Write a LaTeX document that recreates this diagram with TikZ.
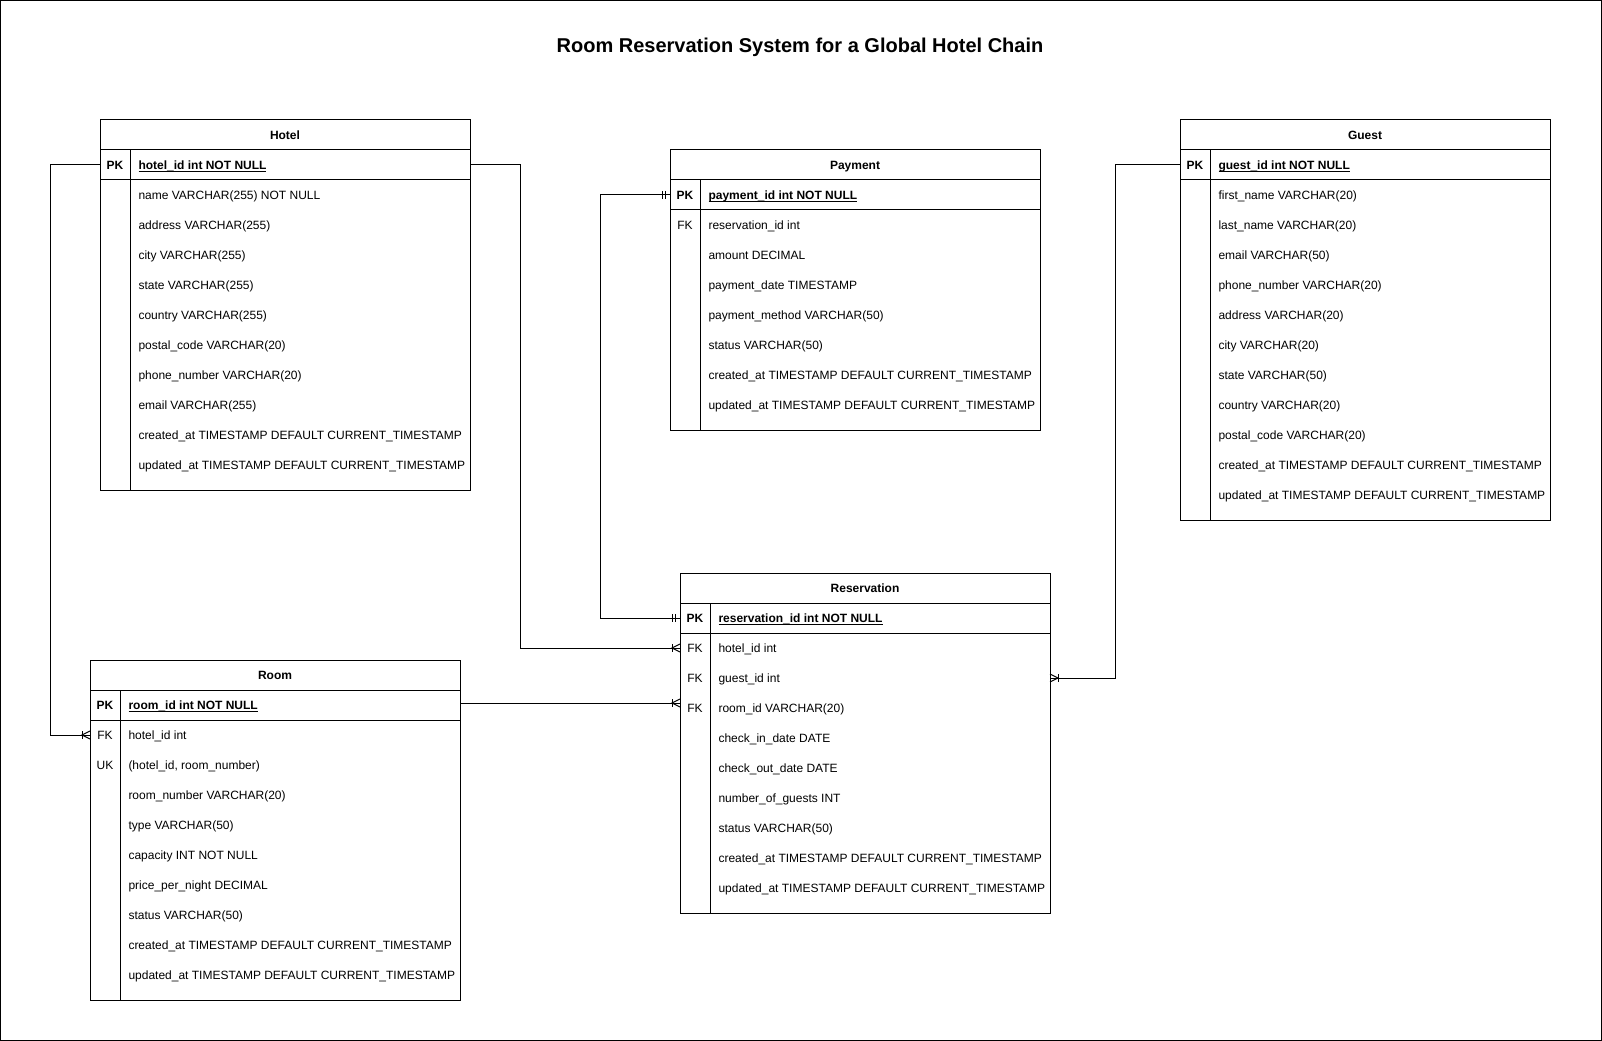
\documentclass[tikz,border=0pt]{standalone}
\usepackage{fontspec}
\setmainfont{Liberation Sans}

\begin{document}
\begin{tikzpicture}[x=0.75pt, y=-0.75pt, line width=0.75pt,
  rowbox/.style={minimum width=277.5pt, minimum height=22.5pt, inner sep=0pt, outer sep=0pt},
  keytext/.style={font=\fontsize{9}{11}\selectfont, inner sep=0pt, text height=7.5pt, text depth=0.5pt},
  keybold/.style={keytext, font=\fontsize{9}{11}\selectfont\bfseries},
  fieldtext/.style={keytext, anchor=west},
  fieldbold/.style={keybold, anchor=west},
  headtext/.style={rowbox, text height=7.5pt, text depth=0.5pt, font=\fontsize{9}{11}\selectfont\bfseries}]
% Colors
\definecolor{lineColor}{RGB}{0,0,0}
\useasboundingbox (0,0) rectangle (1602,1041);
\draw[lineColor] (0.5,0.5) rectangle (1601.5,1040.5);
\node[font=\fontsize{15}{18}\selectfont\bfseries] (title) at (800,47)
  {Room Reservation System for a Global Hotel Chain};
% Hotel
\begin{scope}[shift={(100,120)}]
	\draw[lineColor] (0,0) rectangle (370,370);
	\draw[lineColor] (0,30) -- (370,30);
	\draw[lineColor] (0,60) -- (370,60);
	\draw[lineColor] (30,30) -- (30,370);
	\node[headtext] (hotel-head) at (185,15) {Hotel};
	\node[rowbox] (hotel-pk) at (185,45) {};
	\node[keybold] at (15,45) {PK};
	\node[fieldbold] at (38,45) {\underline{\smash{hotel\_id int NOT NULL}}};
	\foreach \k/\f [count=\i] in {/name VARCHAR(255) NOT NULL, /address VARCHAR(255),
	  /city VARCHAR(255), /state VARCHAR(255), /country VARCHAR(255),
	  /postal\_code VARCHAR(20), /phone\_number VARCHAR(20), /email VARCHAR(255),
	  /created\_at TIMESTAMP DEFAULT CURRENT\_TIMESTAMP,
	  /updated\_at TIMESTAMP DEFAULT CURRENT\_TIMESTAMP} {
		\node[rowbox] (hotel-\i) at (185,{45+30*\i}) {};
		\node[keytext] at (15,{45+30*\i}) {\k};
		\node[fieldtext] at (38,{45+30*\i}) {\f};
	}
\end{scope}
% Room
\begin{scope}[shift={(90,660)}]
	\draw[lineColor] (0,0) rectangle (370,340);
	\draw[lineColor] (0,30) -- (370,30);
	\draw[lineColor] (0,60) -- (370,60);
	\draw[lineColor] (30,30) -- (30,340);
	\node[headtext] (room-head) at (185,15) {Room};
	\node[rowbox] (room-pk) at (185,45) {};
	\node[keybold] at (15,45) {PK};
	\node[fieldbold] at (38,45) {\underline{\smash{room\_id int NOT NULL}}};
	\foreach \k/\f [count=\i] in {FK/hotel\_id int, UK/(hotel\_id{,} room\_number),
	  /room\_number VARCHAR(20), /type VARCHAR(50), /capacity INT NOT NULL,
	  /price\_per\_night DECIMAL, /status VARCHAR(50),
	  /created\_at TIMESTAMP DEFAULT CURRENT\_TIMESTAMP,
	  /updated\_at TIMESTAMP DEFAULT CURRENT\_TIMESTAMP} {
		\node[rowbox] (room-\i) at (185,{45+30*\i}) {};
		\node[keytext] at (15,{45+30*\i}) {\k};
		\node[fieldtext] at (38,{45+30*\i}) {\f};
	}
\end{scope}
% Payment
\begin{scope}[shift={(670,150)}]
	\draw[lineColor] (0,0) rectangle (370,280);
	\draw[lineColor] (0,30) -- (370,30);
	\draw[lineColor] (0,60) -- (370,60);
	\draw[lineColor] (30,30) -- (30,280);
	\node[headtext] (pay-head) at (185,15) {Payment};
	\node[rowbox] (pay-pk) at (185,45) {};
	\node[keybold] at (15,45) {PK};
	\node[fieldbold] at (38,45) {\underline{\smash{payment\_id int NOT NULL}}};
	\foreach \k/\f [count=\i] in {FK/reservation\_id int, /amount DECIMAL,
	  /payment\_date TIMESTAMP, /payment\_method VARCHAR(50), /status VARCHAR(50),
	  /created\_at TIMESTAMP DEFAULT CURRENT\_TIMESTAMP,
	  /updated\_at TIMESTAMP DEFAULT CURRENT\_TIMESTAMP} {
		\node[rowbox] (pay-\i) at (185,{45+30*\i}) {};
		\node[keytext] at (15,{45+30*\i}) {\k};
		\node[fieldtext] at (38,{45+30*\i}) {\f};
	}
\end{scope}
% Guest
\begin{scope}[shift={(1180,120)}]
	\draw[lineColor] (0,0) rectangle (370,400);
	\draw[lineColor] (0,30) -- (370,30);
	\draw[lineColor] (0,60) -- (370,60);
	\draw[lineColor] (30,30) -- (30,400);
	\node[headtext] (guest-head) at (185,15) {Guest};
	\node[rowbox] (guest-pk) at (185,45) {};
	\node[keybold] at (15,45) {PK};
	\node[fieldbold] at (38,45) {\underline{\smash{guest\_id int NOT NULL}}};
	\foreach \k/\f [count=\i] in {/first\_name VARCHAR(20), /last\_name VARCHAR(20),
	  /email VARCHAR(50), /phone\_number VARCHAR(20), /address VARCHAR(20),
	  /city VARCHAR(20), /state VARCHAR(50), /country VARCHAR(20),
	  /postal\_code VARCHAR(20),
	  /created\_at TIMESTAMP DEFAULT CURRENT\_TIMESTAMP,
	  /updated\_at TIMESTAMP DEFAULT CURRENT\_TIMESTAMP} {
		\node[rowbox] (guest-\i) at (185,{45+30*\i}) {};
		\node[keytext] at (15,{45+30*\i}) {\k};
		\node[fieldtext] at (38,{45+30*\i}) {\f};
	}
\end{scope}
% Reservation
\begin{scope}[shift={(680,573)}]
	\draw[lineColor] (0,0) rectangle (370,340);
	\draw[lineColor] (0,30) -- (370,30);
	\draw[lineColor] (0,60) -- (370,60);
	\draw[lineColor] (30,30) -- (30,340);
	\node[headtext] (res-head) at (185,15) {Reservation};
	\node[rowbox] (res-pk) at (185,45) {};
	\node[keybold] at (15,45) {PK};
	\node[fieldbold] at (38,45) {\underline{\smash{reservation\_id int NOT NULL}}};
	\foreach \k/\f [count=\i] in {FK/hotel\_id int, FK/guest\_id int,
	  FK/room\_id VARCHAR(20), /check\_in\_date DATE, /check\_out\_date DATE,
	  /number\_of\_guests INT, /status VARCHAR(50),
	  /created\_at TIMESTAMP DEFAULT CURRENT\_TIMESTAMP,
	  /updated\_at TIMESTAMP DEFAULT CURRENT\_TIMESTAMP} {
		\node[rowbox] (res-\i) at (185,{45+30*\i}) {};
		\node[keytext] at (15,{45+30*\i}) {\k};
		\node[fieldtext] at (38,{45+30*\i}) {\f};
	}
\end{scope}
% Relations
\begin{scope}[lineColor]
	\draw (hotel-pk.east) -- ++(50,0) |- (res-1.west);   % hotel -- reservation
	\draw (res-1.west) ++(-8,-4) -- ++(0,8);
	\draw (res-1.west) ++(0,-4) -- ++(-8,4) -- ++(8,4);
	\draw (hotel-pk.west) -- ++(-50,0) |- (room-1.west); % hotel -- room
	\draw (room-1.west) ++(-8,-4) -- ++(0,8);
	\draw (room-1.west) ++(0,-4) -- ++(-8,4) -- ++(8,4);
	\draw (pay-pk.west) -- ++(-70,0) |- (res-pk.west);   % payment -- reservation
	\draw (pay-pk.west) ++(-5,-4) -- ++(0,8);
	\draw (pay-pk.west) ++(-8,-4) -- ++(0,8);
	\draw (res-pk.west) ++(-5,-4) -- ++(0,8);
	\draw (res-pk.west) ++(-8,-4) -- ++(0,8);
	\coordinate (room-end) at ([yshift=1.5pt]room-pk.east -| res-3.west);
	\draw ([yshift=1.5pt]room-pk.east) -- (room-end);   % room -- reservation
	\draw (room-end) ++(-8,-4) -- ++(0,8);
	\draw (room-end) ++(0,-4) -- ++(-8,4) -- ++(8,4);
	\draw (guest-pk.west) -- ++(-65,0) |- (res-2.east);  % guest -- reservation
	\draw (res-2.east) ++(8,-4) -- ++(0,8);
	\draw (res-2.east) ++(0,-4) -- ++(8,4) -- ++(-8,4);
\end{scope}
\end{tikzpicture}
\end{document}
